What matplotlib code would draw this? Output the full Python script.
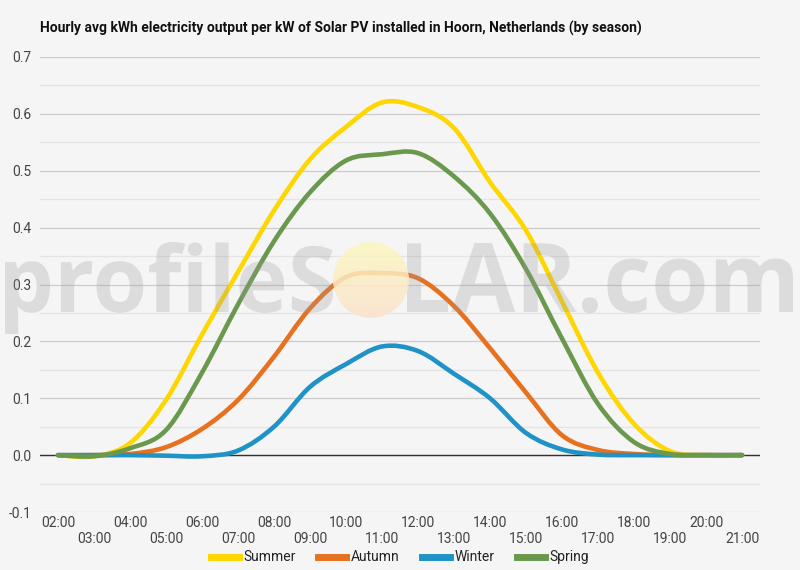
import numpy as np
import matplotlib
matplotlib.use("Agg")
import matplotlib.pyplot as plt
from matplotlib.path import Path
from matplotlib.patches import PathPatch, Ellipse
from matplotlib.lines import Line2D
from matplotlib.textpath import TextPath
from matplotlib.font_manager import FontProperties
from matplotlib.transforms import Affine2D

plt.rcParams['font.family'] = ['Roboto', 'DejaVu Sans']

# data
hours = ["02:00", "03:00", "04:00", "05:00", "06:00", "07:00", "08:00", "09:00",
         "10:00", "11:00", "12:00", "13:00", "14:00", "15:00", "16:00", "17:00",
         "18:00", "19:00", "20:00", "21:00"]
summer = [0.000, -0.002, 0.021, 0.097, 0.212, 0.322, 0.430, 0.520, 0.577, 0.620,
          0.612, 0.575, 0.480, 0.395, 0.270, 0.145, 0.055, 0.007, 0.000, 0.000]
autumn = [0.000, 0.000, 0.002, 0.014, 0.046, 0.097, 0.173, 0.258, 0.313, 0.320,
          0.311, 0.262, 0.188, 0.110, 0.035, 0.009, 0.002, 0.000, 0.000, 0.000]
winter = [0.000, 0.000, 0.000, -0.001, -0.002, 0.008, 0.050, 0.120, 0.160, 0.191,
          0.183, 0.143, 0.100, 0.039, 0.010, 0.001, 0.000, 0.000, 0.000, 0.000]
spring = [0.000, -0.002, 0.012, 0.044, 0.145, 0.265, 0.376, 0.462, 0.518, 0.529,
          0.531, 0.490, 0.425, 0.327, 0.205, 0.090, 0.023, 0.002, 0.000, 0.000]

series_names = ["Summer", "Autumn", "Winter", "Spring"]
series_vals = [summer, autumn, winter, spring]
series_cols = ["#ffd600", "#e6711f", "#1f93c6", "#6a994e"]

W, H = 800, 570
BG = "#f5f5f5"


def smooth_path(xs, ys):
    # catmull-rom style bezier through the points
    pts = np.column_stack([xs, ys]).astype(float)
    padded = np.vstack([pts[0], pts, pts[-1]])
    verts = [pts[0]]
    codes = [Path.MOVETO]
    for i in range(len(pts) - 1):
        p0, p1, p2, p3 = padded[i], padded[i + 1], padded[i + 2], padded[i + 3]
        verts += [p1 + (p2 - p0) / 6, p2 - (p3 - p1) / 6, p2]
        codes += [Path.CURVE4] * 3
    return Path(verts, codes)


fig = plt.figure(figsize=(8, 5.7), dpi=100, facecolor=BG)
ax = fig.add_axes([40 / W, 1 - 512 / H, 720 / W, 455 / H], facecolor=BG)

x = np.arange(len(hours))
for name, vals, col in zip(series_names, series_vals, series_cols):
    ax.add_patch(PathPatch(smooth_path(x, vals), fill=False, edgecolor=col,
                           lw=3.3, capstyle='round', joinstyle='round', zorder=3))

ax.set_xlim(-0.5, len(hours) - 0.5)
ax.set_ylim(-0.1, 0.7)
ax.set_yticks(np.arange(-0.1, 0.71, 0.1))
ax.set_yticks(np.arange(-0.05, 0.7, 0.1), minor=True)
ax.set_yticklabels([f"{v:.1f}" for v in np.arange(-0.1, 0.71, 0.1)])
ax.grid(axis='y', which='major', color='#cccccc', lw=0.9)
ax.grid(axis='y', which='minor', color='#e4e4e4', lw=0.9)
ax.axhline(0, color='#333333', lw=1.0, zorder=2)
ax.set_axisbelow(True)

ax.set_xticks(x)
ax.set_xticklabels([h if i % 2 == 0 else "\n" + h for i, h in enumerate(hours)])
ax.tick_params(axis='both', which='both', length=0, labelsize=10, colors='#444444')
ax.tick_params(axis='y', pad=6)
ax.tick_params(axis='x', pad=3)
for s in ax.spines.values():
    s.set_visible(False)

fig.text(40 / W, 1 - 28 / H, "Hourly avg kWh electricity output per kW of Solar PV installed in Hoorn, Netherlands (by season)",
         fontsize=10, fontweight='bold', color='#111111', va='center', ha='left')

# legend
handles = [Line2D([], [], color=c, lw=5) for c in series_cols]
fig.legend(handles, series_names, loc='lower center', bbox_to_anchor=(0.5, 0.0), ncol=4,
           frameon=False, handlelength=2.0, handletextpad=0.35, columnspacing=1.6,
           fontsize=10, labelcolor='#222222', borderaxespad=0.0)

# watermark
fp = FontProperties(family='Open Sans', weight='bold')


def place_word(s, left, right, base, height):
    tp = TextPath((0, 0), s, size=100, prop=fp)
    ext = tp.get_extents()
    sx = (right - left) / ext.width
    sy = height / ext.y1
    tr = (Affine2D().translate(-ext.x0, 0).scale(sx / W, sy / H)
          .translate(left / W, base / H) + fig.transFigure)
    fig.add_artist(PathPatch(tp, transform=tr, facecolor='#9a9a9a', edgecolor='none',
                             alpha=0.27, zorder=5))


place_word("profileS", 5, 333, H - 312, 70)
place_word("LAR.com", 407, 793, H - 312, 69)

# sun in place of the O
cx, cy, r = 371, H - 280, 38
sun_ax = fig.add_axes([(cx - r) / W, (cy - r) / H, 2 * r / W, 2 * r / H], zorder=6)
sun_ax.axis('off')
t = np.linspace(0, 1, 64)[:, None, None]
top = np.array([252, 247, 190]) / 255
bot = np.array([252, 226, 204]) / 255
img = top * (1 - t) + bot * t
img = np.repeat(img, 4, axis=1)
im = sun_ax.imshow(img, extent=[0, 1, 0, 1], aspect='auto', alpha=0.85, origin='upper')
circ = Ellipse((0.5, 0.5), 1, 1, transform=sun_ax.transAxes, facecolor='none', edgecolor='none')
sun_ax.add_patch(circ)
im.set_clip_path(circ)
sun_ax.set_xlim(0, 1)
sun_ax.set_ylim(0, 1)

fig.savefig("out.png", dpi=100, facecolor=BG)
